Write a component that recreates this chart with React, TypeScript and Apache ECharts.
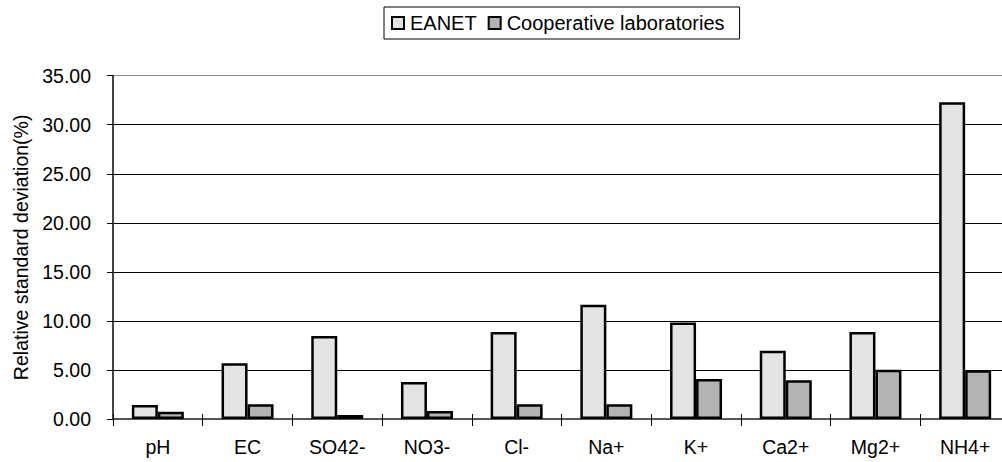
import React, { useEffect, useRef } from "react";
import * as echarts from "echarts";

const categories = ["pH", "EC", "SO42-", "NO3-", "Cl-", "Na+", "K+", "Ca2+", "Mg2+", "NH4+"];
const eanetValues = [1.43, 5.68, 8.47, 3.78, 8.88, 11.66, 9.83, 6.97, 8.88, 32.3];
const coopValues = [0.75, 1.5, 0.41, 0.82, 1.5, 1.5, 4.08, 3.95, 5.03, 4.97];
const seriesNames = ["EANET", "Cooperative laboratories"];
const yTicks = { min: 0, max: 35, interval: 5 };

const FONT = "'Liberation Sans', Arial, sans-serif";

export default function App() {
  const ref = useRef<HTMLDivElement>(null);
  useEffect(() => {
    if (!ref.current) return;
    const chart = echarts.init(ref.current, null, { renderer: "svg" });
    chart.setOption({
      animation: false,
      backgroundColor: "#fff",
      textStyle: { fontFamily: FONT },
      legend: {
        left: 384,
        top: 7,
        padding: [6, 15, 6, 7],
        borderColor: "#000",
        borderWidth: 1,
        itemWidth: 12,
        itemHeight: 12,
        itemGap: 11,
        icon: "rect",
        itemStyle: { borderColor: "#000", borderWidth: 2 },
        textStyle: { fontFamily: FONT, fontSize: 20, color: "#000", padding: [0, 0, 0, 1] },
        data: seriesNames,
      },
      grid: {
        left: 113,
        top: 75.7,
        width: 897,
        height: 343.3,
        outerBoundsMode: "none",
      },
      xAxis: [
        {
          type: "category",
          data: categories,
          axisLine: { lineStyle: { color: "#555", width: 2 } },
          axisTick: { show: true, length: 7, lineStyle: { color: "#000", width: 1 } },
          axisLabel: { color: "#000", fontSize: 19.5, fontFamily: FONT, margin: 18 },
        },
        {
          type: "category",
          data: categories,
          position: "bottom",
          axisLine: { show: false },
          axisTick: { show: true, inside: true, length: 5, lineStyle: { color: "#000", width: 1 } },
          axisLabel: { show: false },
          splitLine: { show: false },
        },
      ],
      yAxis: {
        type: "value",
        min: yTicks.min,
        max: yTicks.max,
        interval: yTicks.interval,
        name: "Relative standard deviation(%)",
        nameLocation: "middle",
        nameGap: 76,
        nameTextStyle: { color: "#000", fontSize: 19.5, fontFamily: FONT },
        axisLine: { show: true, lineStyle: { color: "#444", width: 2 } },
        axisTick: { show: true, length: 6, lineStyle: { color: "#000", width: 1 } },
        axisLabel: {
          color: "#000",
          fontSize: 19.5,
          fontFamily: FONT,
          margin: 22,
          formatter: (v: number) => v.toFixed(2),
        },
        splitLine: {
          show: true,
          lineStyle: {
            color: ["#000", "#000", "#000", "#000", "#000", "#000", "#000", "#888"],
            width: 1,
          },
        },
      },
      series: [
        {
          name: seriesNames[0],
          type: "bar",
          data: eanetValues,
          barWidth: 26,
          barGap: "0%",
          itemStyle: { color: "#e3e3e3", borderColor: "#000", borderWidth: 2.5 },
        },
        {
          name: seriesNames[1],
          type: "bar",
          data: coopValues,
          barWidth: 26,
          barGap: "0%",
          itemStyle: { color: "#b3b3b3", borderColor: "#000", borderWidth: 2.5 },
        },
      ],
    });
    return () => chart.dispose();
  }, []);
  return (
    <div
      ref={ref}
      style={{ position: "fixed", left: 0, top: 0, width: 1002, height: 462 }}
    />
  );
}
